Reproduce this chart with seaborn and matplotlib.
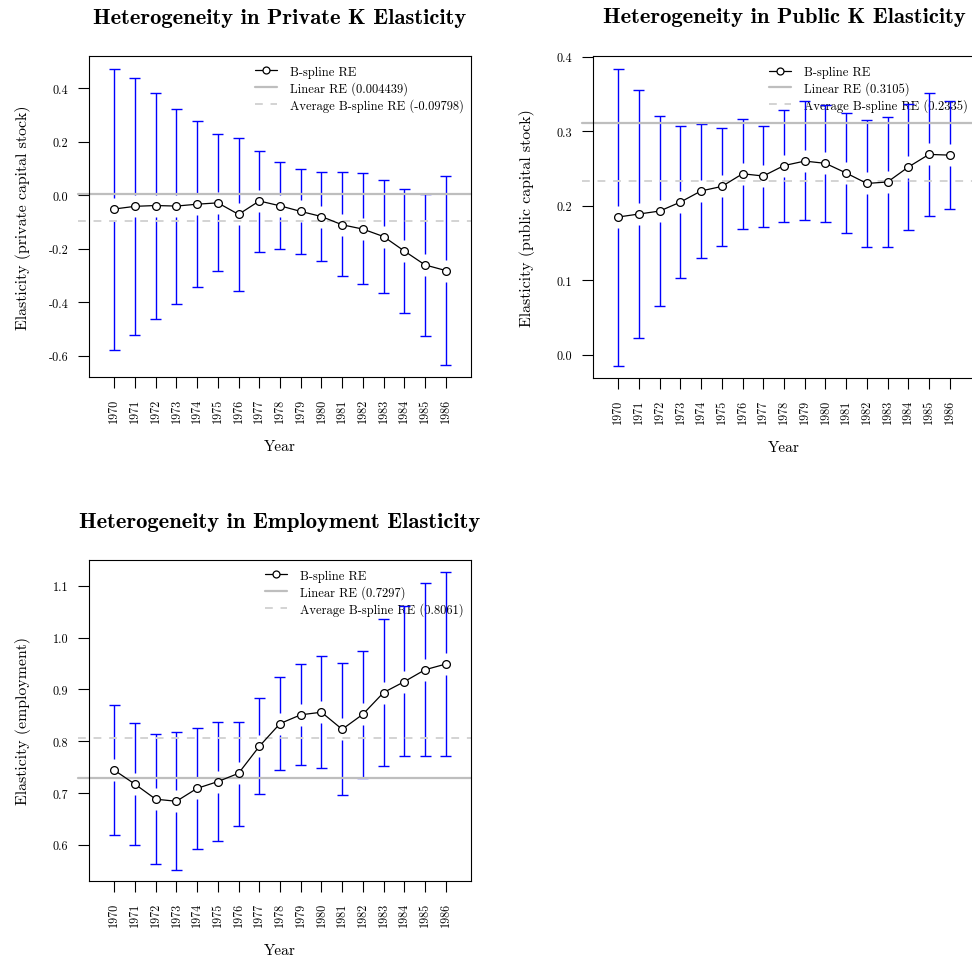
import numpy as np
import pandas as pd
import matplotlib
matplotlib.use("Agg")
import matplotlib.pyplot as plt
import seaborn as sns
from matplotlib.lines import Line2D

# ---------------- data ----------------
years = list(range(1970, 1987))

private_est = [-0.052, -0.042, -0.039, -0.041, -0.034, -0.029, -0.072, -0.022, -0.040,
               -0.061, -0.080, -0.111, -0.127, -0.155, -0.209, -0.261, -0.282]
private_hi = [0.472, 0.436, 0.383, 0.323, 0.277, 0.227, 0.215, 0.165, 0.122,
              0.098, 0.087, 0.085, 0.081, 0.056, 0.024, 0.004, 0.072]
private_lo = [-0.578, -0.522, -0.462, -0.407, -0.345, -0.284, -0.359, -0.211, -0.201,
              -0.221, -0.248, -0.303, -0.333, -0.366, -0.441, -0.528, -0.636]

public_est = [0.185, 0.189, 0.193, 0.205, 0.220, 0.226, 0.243, 0.240, 0.254,
              0.260, 0.257, 0.244, 0.230, 0.232, 0.252, 0.269, 0.268]
public_hi = [0.384, 0.355, 0.321, 0.307, 0.310, 0.305, 0.317, 0.307, 0.328,
             0.340, 0.335, 0.325, 0.315, 0.319, 0.336, 0.352, 0.340]
public_lo = [-0.015, 0.023, 0.066, 0.103, 0.130, 0.146, 0.169, 0.171, 0.178,
             0.181, 0.178, 0.163, 0.145, 0.145, 0.168, 0.187, 0.196]

emp_est = [0.744, 0.717, 0.688, 0.684, 0.709, 0.722, 0.738, 0.790, 0.834,
           0.851, 0.856, 0.823, 0.852, 0.894, 0.915, 0.938, 0.949]
emp_hi = [0.869, 0.835, 0.814, 0.817, 0.826, 0.837, 0.838, 0.884, 0.924,
          0.950, 0.965, 0.951, 0.975, 1.037, 1.061, 1.105, 1.126]
emp_lo = [0.619, 0.599, 0.563, 0.552, 0.592, 0.608, 0.637, 0.698, 0.745,
          0.754, 0.749, 0.696, 0.729, 0.753, 0.771, 0.772, 0.772]

titles = ["Heterogeneity in Private K Elasticity",
          "Heterogeneity in Public K Elasticity",
          "Heterogeneity in Employment Elasticity"]
ylabels = ["Elasticity (private capital stock)",
           "Elasticity (public capital stock)",
           "Elasticity (employment)"]
linear_re = [0.004439, 0.3105, 0.7297]
linear_lbl = ["0.004439", "0.3105", "0.7297"]
avg_re = [-0.09798, 0.2335, 0.8061]
avg_lbl = ["-0.09798", "0.2335", "0.8061"]
yticks = [[-0.6, -0.4, -0.2, 0.0, 0.2, 0.4],
          [0.0, 0.1, 0.2, 0.3, 0.4],
          [0.6, 0.7, 0.8, 0.9, 1.0, 1.1]]
ylims = [(-0.680, 0.520), (-0.031, 0.401), (0.530, 1.150)]

# ---------------- style ----------------
sns.set_style("ticks")
plt.rcParams.update({
    "font.family": ["cmr10", "DejaVu Serif"],
    "axes.unicode_minus": False,
    "axes.edgecolor": "black",
    "axes.linewidth": 0.8,
    "text.color": "black",
    "axes.labelcolor": "black",
    "xtick.color": "black",
    "ytick.color": "black",
})

W, H = 972, 962
fig = plt.figure(figsize=(W / 100, H / 100), dpi=100)


def rect(l, t, r, b):
    return [l / W, 1 - b / H, (r - l) / W, (b - t) / H]


rects = [rect(89, 57, 471, 378), rect(593, 57, 975, 379), rect(89, 561, 471, 882)]
ests = [private_est, public_est, emp_est]
his = [private_hi, public_hi, emp_hi]
los = [private_lo, public_lo, emp_lo]

BLUE = "#0000FF"
for i in range(3):
    ax = fig.add_axes(rects[i])
    df = pd.DataFrame({"Year": years, "est": ests[i], "lo": los[i], "hi": his[i]})
    ax.set_xlim(1968.78, 1987.22)
    ax.set_ylim(*ylims[i])

    # gap around points in data units (11 px)
    ax_h_px = rects[i][3] * H
    gap = 11 * (ylims[i][1] - ylims[i][0]) / ax_h_px
    ax_w_px = rects[i][2] * W
    capw = 5.5 * (1987.22 - 1968.78) / ax_w_px

    ax.vlines(df["Year"], df["lo"], df["est"] - gap, color=BLUE, lw=1.0, zorder=2)
    ax.vlines(df["Year"], df["est"] + gap, df["hi"], color=BLUE, lw=1.0, zorder=2)
    ax.hlines(df["hi"], df["Year"] - capw, df["Year"] + capw, color=BLUE, lw=1.0, zorder=2)
    ax.hlines(df["lo"], df["Year"] - capw, df["Year"] + capw, color=BLUE, lw=1.0, zorder=2)

    ext = 11 / ax_w_px
    ax.axhline(linear_re[i], xmin=-ext, xmax=1, color="#BEBEBE", lw=1.6,
               zorder=2.5, clip_on=False)
    ax.axhline(avg_re[i], xmin=-ext, xmax=1, color="#D3D3D3", lw=1.4,
               dashes=(4, 4), zorder=2.5, clip_on=False)

    sns.lineplot(data=df, x="Year", y="est", ax=ax, color="black", lw=0.9,
                 marker="o", markersize=5.6, markerfacecolor="white",
                 markeredgecolor="black", markeredgewidth=0.9, zorder=3)

    ax.set_xticks(years)
    ax.set_xticklabels([str(y) for y in years], rotation=90, fontsize=8.8)
    ax.set_yticks(yticks[i])
    ax.set_yticklabels([f"{v:.1f}" for v in yticks[i]], fontsize=8.8)
    ax.tick_params(direction="out", length=8, width=0.8, pad=7, colors="black")
    for s in ax.spines.values():
        s.set_visible(True)
        s.set_color("black")
        s.set_linewidth(0.8)

    ax.set_xlabel("Year", fontsize=11)
    ax.xaxis.set_label_coords(0.5, -(440 - 378) / 321)
    ax.set_ylabel(ylabels[i], fontsize=11.4)
    ax.yaxis.set_label_coords(-(89 - 31) / 382, 0.5)

    ax.text(0.5, 1 + 39 / 321, titles[i], transform=ax.transAxes, ha="center",
            va="center", family="cmb10", fontsize=16.3)

    handles = [
        Line2D([], [], color="black", lw=0.9, marker="o", markersize=5,
               markerfacecolor="white", markeredgecolor="black", markeredgewidth=0.9),
        Line2D([], [], color="#BEBEBE", lw=1.6),
        Line2D([], [], color="#D3D3D3", lw=1.4, dashes=(4, 4)),
    ]
    labels = ["B-spline RE", f"Linear RE ({linear_lbl[i]})",
              f"Average B-spline RE ({avg_lbl[i]})"]
    leg = ax.legend(handles, labels, loc="upper right", bbox_to_anchor=(1, 0.993),
                    frameon=False, fontsize=9.0, labelspacing=0.25, handlelength=1.8,
                    handletextpad=1.0, borderpad=0.3, borderaxespad=0.3)
    leg.set_zorder(1)

fig.savefig("out.png", dpi=100)
